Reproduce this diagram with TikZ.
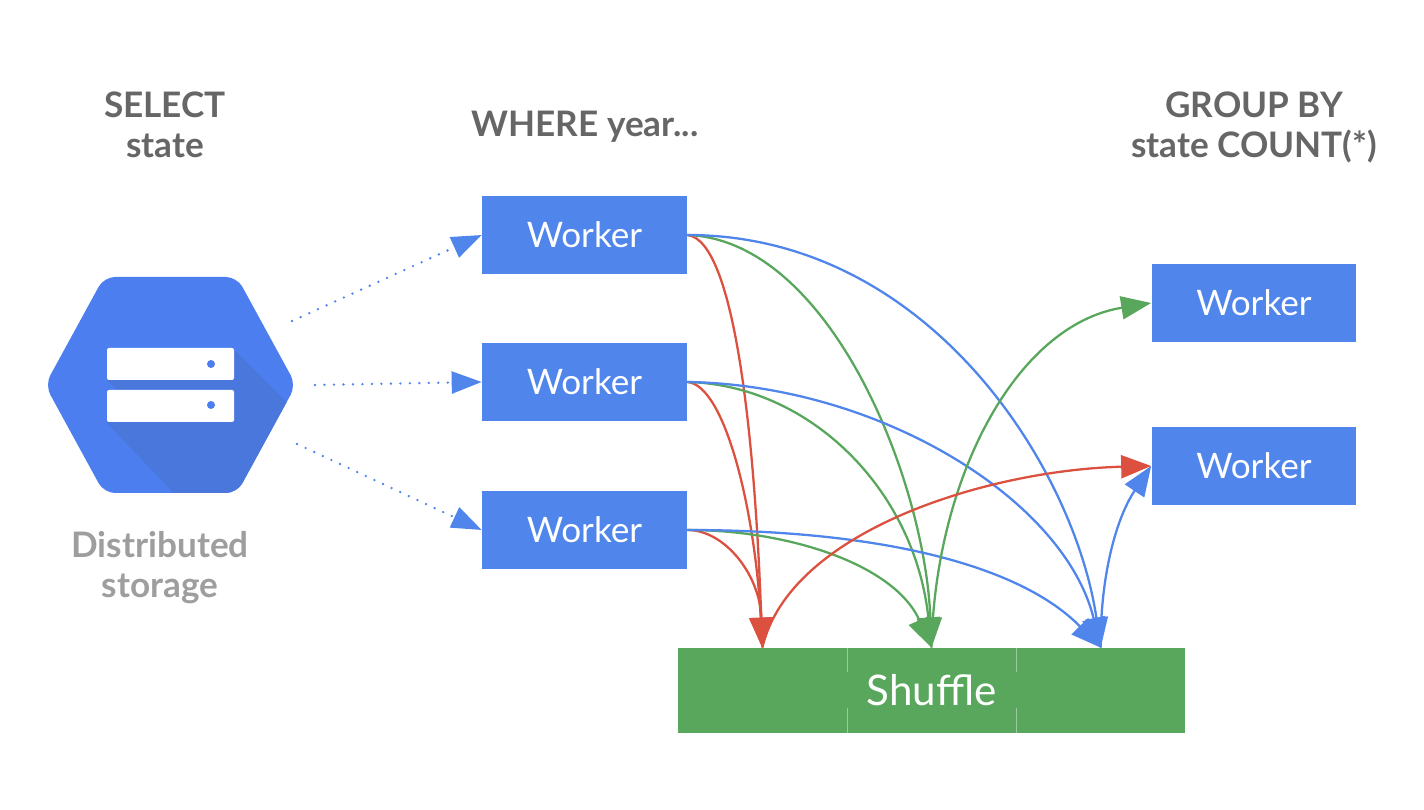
\documentclass[tikz,border=0pt]{standalone}
\usepackage{fontspec}
\setmainfont{Lato}
\definecolor{workerblue}{RGB}{80, 134, 236}
\definecolor{hexblue}{RGB}{76, 126, 240}
\definecolor{hexshade}{RGB}{73, 119, 220}
\definecolor{shufflegreen}{RGB}{88, 167, 92}
\definecolor{linered}{RGB}{219, 80, 62}
\definecolor{headgray}{RGB}{102, 102, 102}
\definecolor{storegray}{RGB}{158, 158, 158}
\usetikzlibrary{arrows.meta, calc}
\tikzset{
    workerbox/.style={fill=workerblue, text=white, minimum width=4.1cm, minimum height=1.56cm, inner sep=0pt, font=\fontsize{20}{24}\selectfont},
    headtext/.style={align=center, text=headgray, font=\fontsize{20}{22.7}\selectfont\bfseries},
    flow/.style={line width=1.3pt, -{Triangle[length=0.6cm, width=0.46cm]}},
    feed/.style={line width=1.5pt, line cap=round, dash pattern=on 0pt off 5.4pt, workerblue, -{Triangle[length=0.6cm, width=0.44cm]}}
}

\begin{document}
\begin{tikzpicture}[x=0.02cm, y=-0.02cm]
    \useasboundingbox (0, 0) rectangle (1424, 810);

    % Storage icon
    \begin{scope}
        \clip[rounded corners=0.22cm] (45, 385) -- (104, 277) -- (237, 277) -- (296, 385) -- (237, 493) -- (104, 493) -- cycle;
        \fill[hexblue] (40, 270) rectangle (300, 500);
        \fill[hexshade] (234, 350) -- (310, 426) -- (310, 510) -- (190, 510) -- (107, 423) -- (117, 390) -- (107, 380) -- cycle;
    \end{scope}
    \fill[white, rounded corners=0.04cm] (107, 348) rectangle (234, 380);
    \fill[white, rounded corners=0.04cm] (107, 390) rectangle (234, 422);
    \fill[hexblue] (211, 364) circle (0.08cm);
    \fill[hexblue] (211, 405) circle (0.08cm);
    \coordinate (storeup) at (292, 321);
    \coordinate (storemid) at (315, 385);
    \coordinate (storelow) at (297, 444);

    % Headings
    \node[headtext] (selecttext) at (165, 125) {SELECT\\state};
    \node[headtext] (wheretext) at (585, 127) {WHERE year...};
    \node[headtext] (grouptext) at (1254, 127) {GROUP BY\\state COUNT(*)};
    \node[headtext, text=storegray] (storetext) at (160, 568) {Distributed\\storage};

    % Workers
    \node[workerbox] (workerA) at (584.5, 235) {\raisebox{-1pt}{Worker}};
    \node[workerbox] (workerB) at (584.5, 382) {\raisebox{-1pt}{Worker}};
    \node[workerbox] (workerC) at (584.5, 530) {\raisebox{-1pt}{Worker}};
    \node[workerbox] (workerD) at (1254, 303) {\raisebox{-1pt}{Worker}};
    \node[workerbox] (workerE) at (1254, 466) {\raisebox{-1pt}{Worker}};

    % Shuffle
    \node[fill=shufflegreen, text=white, minimum width=10.14cm, minimum height=1.7cm, inner sep=0pt, font=\fontsize{24}{28}\selectfont] (shuffle) at (931.5, 690.5) {Shuffle};
    \coordinate (shufA) at ($(shuffle.north west)!1/6!(shuffle.north east)$);
    \coordinate (shufB) at (shuffle.north);
    \coordinate (shufC) at ($(shuffle.north west)!5/6!(shuffle.north east)$);
    \draw[white, opacity=0.4, line width=0.4pt] (847, 648) -- (847, 672) (847, 708) -- (847, 733) (1016, 648) -- (1016, 672) (1016, 708) -- (1016, 733);

    % Read from storage
    \draw[feed] (storeup) -- (workerA.west);
    \draw[feed] (storemid) -- (workerB.west);
    \draw[feed] (storelow) -- (workerC.west);

    % Out of first worker
    \draw[flow, linered] (workerA.east) .. controls (735, 240) and (755, 440) .. (shufA);
    \draw[flow, shufflegreen] (workerA.east) .. controls (830, 240) and (925, 480) .. (shufB);
    \draw[flow, workerblue] (workerA.east) .. controls (930, 235) and (1075, 470) .. (shufC);

    % Out of second worker
    \draw[flow, linered] (workerB.east) .. controls (725, 385) and (755, 510) .. (shufA);
    \draw[flow, shufflegreen] (workerB.east) .. controls (810, 385) and (915, 490) .. (shufB);
    \draw[flow, workerblue] (workerB.east) .. controls (880, 385) and (1065, 500) .. (shufC);

    % Out of third worker
    \draw[flow, linered] (workerC.east) .. controls (725, 530) and (760, 575) .. (shufA);
    \draw[flow, shufflegreen] (workerC.east) .. controls (790, 530) and (895, 565) .. (shufB);
    \draw[flow, workerblue] (workerC.east) .. controls (880, 530) and (1020, 565) .. (shufC);

    % Into the last workers
    \draw[flow, shufflegreen] (shufB) .. controls (935, 480) and (1015, 325) .. (workerD.west);
    \draw[flow, linered] (shufA) .. controls (790, 530) and (990, 470) .. (workerE.west);
    \draw[flow, workerblue] (shufC) .. controls (1100, 580) and (1115, 520) .. (workerE.west);
\end{tikzpicture}
\end{document}
